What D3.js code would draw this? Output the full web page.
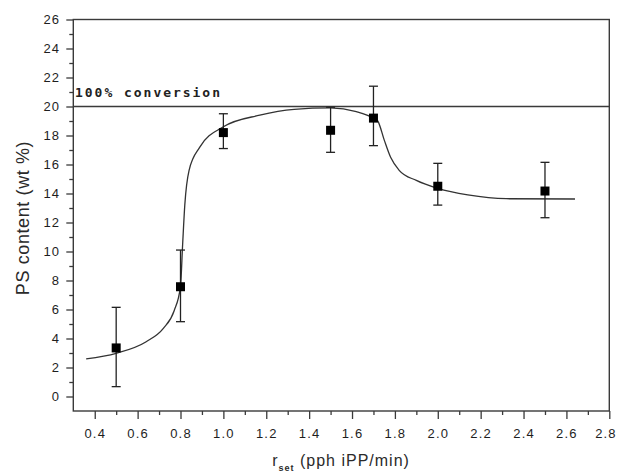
<!DOCTYPE html>
<html lang="en">
<head>
<meta charset="utf-8">
<title>PS content vs r_set</title>
<script src="https://cdn.jsdelivr.net/npm/d3@7"></script>
<style>
  body { margin: 0; background: #fff; }
  svg { display: block; }
  .tick-label { font-family: "Liberation Sans", Arial, sans-serif; font-size: 13px; fill: #1e1e1e; letter-spacing: 1.2px; }
  .title { font-family: "Liberation Sans", Arial, sans-serif; fill: #2a2a2a; }
</style>
</head>
<body>
<script>
// tick labels
const xTicks = [0.4, 0.6, 0.8, 1.0, 1.2, 1.4, 1.6, 1.8, 2.0, 2.2, 2.4, 2.6, 2.8];
const yTicks = [0, 2, 4, 6, 8, 10, 12, 14, 16, 18, 20, 22, 24, 26];

// measured points with error bars
const rSet = [0.5, 0.8, 1.0, 1.5, 1.7, 2.0, 2.5];
const psContent = [3.35, 7.57, 18.2, 18.36, 19.2, 14.5, 14.17];
const errLow = [0.68, 5.16, 17.1, 16.84, 17.3, 13.2, 12.33];
const errHigh = [6.15, 10.1, 19.5, 19.95, 21.4, 16.08, 16.15];

// fitted curve
const fitX = [0.36, 0.5, 0.64, 0.72, 0.77, 0.8, 0.81, 0.82, 0.84, 0.89, 1.0, 1.17, 1.33, 1.5, 1.62, 1.7, 1.72, 1.75, 1.78, 1.82, 1.9, 2.0, 2.14, 2.32, 2.64];
const fitY = [2.6, 2.98, 3.78, 4.7, 5.9, 7.6, 10.5, 13.2, 15.6, 17.2, 18.6, 19.4, 19.8, 19.9, 19.65, 19.2, 19.0, 17.7, 16.5, 15.6, 14.9, 14.35, 13.9, 13.64, 13.62];

const conversionLevel = 20;

let w = 617;
let h = 474;

let xScale = d3.scaleLinear().domain([0.3, 2.8]).range([73.3, 609.3]);
let yScale = d3.scaleLinear().domain([-1, 26]).range([411, 19.5]);

let svg = d3.select("body").append("svg")
  .attr("width", w)
  .attr("height", h);

const axisColor = "#3a3a3a";

// minor ticks
let xMinor = d3.range(0.5, 2.75, 0.2);
let yMinor = d3.range(1, 26, 2);

let xAxis = d3.axisBottom(xScale).tickValues(xTicks).tickSize(8).tickFormat(d3.format(".1f"));
let xAxisMinor = d3.axisBottom(xScale).tickValues(xMinor).tickSize(4).tickFormat("");
let yAxis = d3.axisLeft(yScale).tickValues(yTicks).tickSize(7).tickFormat(d3.format("d"));
let yAxisMinor = d3.axisLeft(yScale).tickValues(yMinor).tickSize(4).tickFormat("");

function styleAxis(g) {
  g.select(".domain").remove();
  g.selectAll("line").attr("stroke", axisColor).attr("stroke-width", 1.3);
  g.selectAll("text").attr("class", "tick-label").attr("fill", null);
}

svg.append("g").attr("transform", "translate(0," + yScale(-1) + ")").call(xAxisMinor).call(styleAxis);
let gx = svg.append("g").attr("transform", "translate(0," + yScale(-1) + ")").call(xAxis).call(styleAxis);
gx.selectAll("text").attr("dy", "1.25em");
// last label sits on the right edge of the picture
gx.selectAll("text").filter(d => d === 2.8).attr("text-anchor", "end").attr("x", 7);
svg.append("g").attr("transform", "translate(" + xScale(0.3) + ",0)").call(yAxisMinor).call(styleAxis);
svg.append("g").attr("transform", "translate(" + xScale(0.3) + ",0)").call(yAxis).call(styleAxis)
  .selectAll("text").attr("x", -13);

// frame
svg.append("rect")
  .attr("x", xScale(0.3))
  .attr("y", yScale(26))
  .attr("width", xScale(2.8) - xScale(0.3))
  .attr("height", yScale(-1) - yScale(26))
  .attr("fill", "none")
  .attr("stroke", axisColor)
  .attr("stroke-width", 1.4);

// 100% conversion line
svg.append("line")
  .attr("x1", xScale(0.3)).attr("x2", xScale(2.8))
  .attr("y1", yScale(conversionLevel)).attr("y2", yScale(conversionLevel))
  .attr("stroke", axisColor)
  .attr("stroke-width", 1.4);

svg.append("text")
  .attr("x", 75)
  .attr("y", yScale(conversionLevel) - 10)
  .attr("font-family", "'DejaVu Sans Mono', monospace")
  .attr("font-weight", "bold")
  .attr("font-size", 13)
  .attr("textLength", 145)
  .attr("lengthAdjust", "spacing")
  .attr("fill", "#222")
  .text("100% conversion");

// fitted curve
let fitData = fitX.map((x, i) => [x, fitY[i]]);
svg.append("path")
  .datum(fitData)
  .attr("fill", "none")
  .attr("stroke", "#333")
  .attr("stroke-width", 1.3)
  .attr("d", d3.line().x(d => xScale(d[0])).y(d => yScale(d[1])).curve(d3.curveMonotoneX));

// error bars
let pts = rSet.map((x, i) => ({x: x, y: psContent[i], lo: errLow[i], hi: errHigh[i]}));
let eb = svg.selectAll(".err").data(pts).enter().append("g").attr("class", "err")
  .attr("stroke", "#222").attr("stroke-width", 1.3);
eb.append("line")
  .attr("x1", d => xScale(d.x)).attr("x2", d => xScale(d.x))
  .attr("y1", d => yScale(d.lo)).attr("y2", d => yScale(d.hi));
eb.append("line")
  .attr("x1", d => xScale(d.x) - 4.5).attr("x2", d => xScale(d.x) + 4.5)
  .attr("y1", d => yScale(d.lo)).attr("y2", d => yScale(d.lo));
eb.append("line")
  .attr("x1", d => xScale(d.x) - 4.5).attr("x2", d => xScale(d.x) + 4.5)
  .attr("y1", d => yScale(d.hi)).attr("y2", d => yScale(d.hi));

// square markers
svg.selectAll(".pt").data(pts).enter().append("rect")
  .attr("class", "pt")
  .attr("x", d => xScale(d.x) - 4.5)
  .attr("y", d => yScale(d.y) - 4.5)
  .attr("width", 9)
  .attr("height", 9)
  .attr("fill", "#000");

// axis titles
svg.append("text")
  .attr("class", "title")
  .attr("transform", "translate(29,218) rotate(-90)")
  .attr("text-anchor", "middle")
  .attr("font-size", 18)
  .attr("letter-spacing", 0.6)
  .text("PS content (wt %)");

let xt = svg.append("text")
  .attr("class", "title")
  .attr("x", 341)
  .attr("y", 466)
  .attr("text-anchor", "middle")
  .attr("font-size", 16)
  .attr("letter-spacing", 1);
xt.append("tspan").text("r");
xt.append("tspan").attr("font-size", 9).attr("font-weight", "bold").attr("dy", 5).text("set");
xt.append("tspan").attr("dy", -5).text(" (pph iPP/min)");
</script>
</body>
</html>
